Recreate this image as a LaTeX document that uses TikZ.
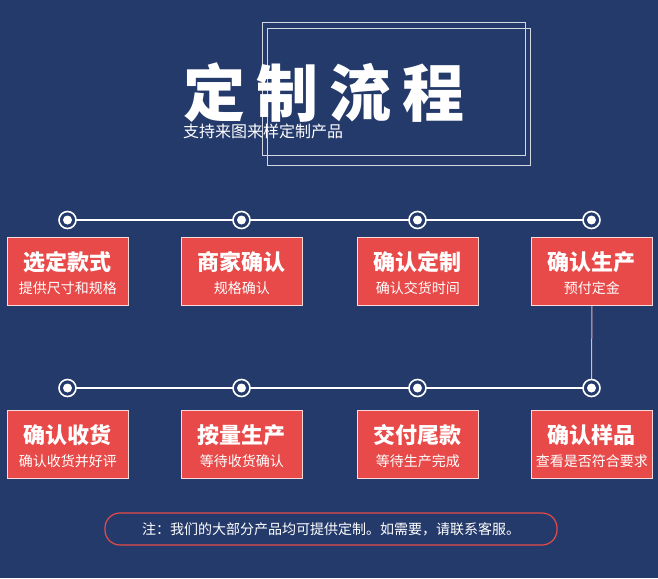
\documentclass[tikz,border=0pt]{standalone}
\usepackage{fontspec}
\newfontfamily\cjk{Noto Sans CJK SC}[BoldFont={Noto Sans CJK SC Black}]
\definecolor{bg}{HTML}{243A6B}
\definecolor{boxred}{HTML}{E84A4A}
\definecolor{ln}{HTML}{E8B0B8}
\tikzset{
 stepbox/.style={draw=white!80!boxred,line width=0.8pt,fill=boxred,minimum width=121pt,minimum height=68pt,anchor=north west,inner sep=0pt},
 dot/.style={circle,fill=white,minimum size=9pt,inner sep=0pt},
 ring/.style={circle,fill=bg,draw=white,line width=1.6pt,minimum size=17pt,inner sep=0pt},
 conn/.style={white,line width=2pt},
}
\begin{document}
\begin{tikzpicture}[x=1pt,y=-1pt,font=\cjk]
\fill[bg] (0,0) rectangle (658,578);
\useasboundingbox (0,0) rectangle (658,578);
\draw[white!80!bg,line width=0.8pt] (262,22) rectangle (525,155);
\draw[white!80!bg,line width=0.8pt] (267,28) rectangle (530,165);
\node[white,font=\cjk\fontsize{62}{62}\selectfont\bfseries\addfontfeature{LetterSpace=18},anchor=west,inner sep=0pt] (title) at (183,93) {定制流程};
\node[white,font=\cjk\fontsize{16}{16}\selectfont,anchor=west,inner sep=0pt] (sub) at (183,131) {支持来图来样定制产品};
\foreach \i/\x in {1/7,2/181,3/357,4/531}{
  \coordinate (c\i) at (\x+60.5,220);
  \coordinate (d\i) at (\x+60.5,388);
}
\draw[conn] (c1) -- (c4);
\draw[conn] (d1) -- (d4);
\foreach \i/\x/\a/\b in {1/7/选定款式/提供尺寸和规格,2/181/商家确认/规格确认,3/357/确认定制/确认交货时间,4/531/确认生产/预付定金}{
  \node[stepbox] (t\i) at (\x,237) {};
  \node[white,font=\cjk\fontsize{22}{22}\selectfont\bfseries] at ([yshift=-25]t\i.north) {\a};
  \node[white,font=\cjk\fontsize{14}{14}\selectfont] at ([yshift=-51]t\i.north) {\b};
}
\foreach \i/\x/\a/\b in {1/7/确认收货/确认收货并好评,2/181/按量生产/等待收货确认,3/357/交付尾款/等待生产完成,4/531/确认样品/查看是否符合要求}{
  \node[stepbox] (b\i) at (\x,410) {};
  \node[white,font=\cjk\fontsize{22}{22}\selectfont\bfseries] at ([yshift=-25]b\i.north) {\a};
  \node[white,font=\cjk\fontsize{14}{14}\selectfont] at ([yshift=-51]b\i.north) {\b};
}
\draw[ln,line width=1pt] (t4.south) -- (d4);
\foreach \i in {1,...,4}{
  \node[ring] (rc\i) at (c\i) {};
  \node[dot] (cd\i) at (c\i) {};
  \node[ring] (rd\i) at (d\i) {};
  \node[dot] (dd\i) at (d\i) {};
}
\node[text=white,draw=boxred,line width=1.2pt,rounded corners=15pt,minimum width=452pt,minimum height=32pt,font=\cjk\fontsize{14}{14}\selectfont] (note) at (331,529) {注：我们的大部分产品均可提供定制。如需要，请联系客服。};
\end{tikzpicture}
\end{document}
